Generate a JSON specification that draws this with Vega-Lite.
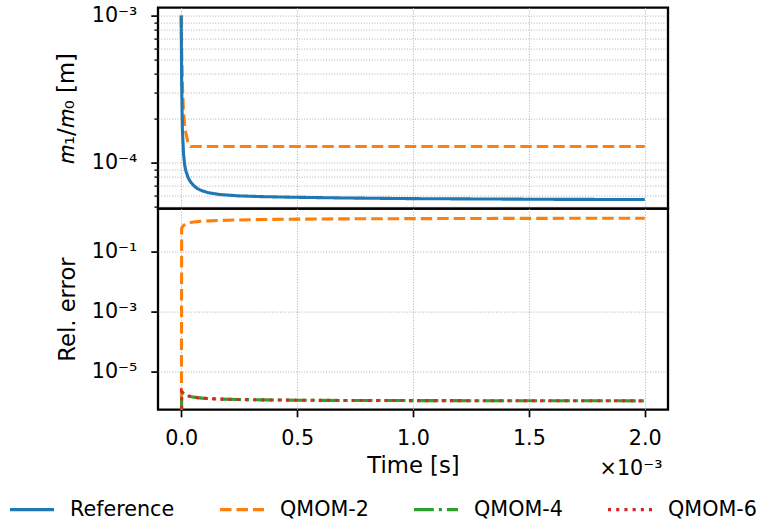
{
  "$schema": "https://vega.github.io/schema/vega-lite/v6.json",
  "padding": {"left": 8, "top": 2.6, "right": 4, "bottom": 4},
  "background": "white",
  "spacing": 0,
  "bounds": "flush",
  "config": {
    "font": "DejaVu Sans",
    "view": {"stroke": "black", "strokeWidth": 2.3},
    "axis": {
      "domain": false,
      "labelFont": "DejaVu Sans", "labelFontSize": 20.7, "labelColor": "black",
      "titleFont": "DejaVu Sans", "titleFontSize": 22.7, "titleColor": "black", "titleFontWeight": "normal",
      "tickColor": "black", "tickWidth": 1.7, "tickSize": 7.2,
      "gridColor": "#b0b0b0", "gridDash": [1, 1.7], "gridWidth": 1
    },
    "legend": {
      "orient": "none", "legendX": -150, "legendY": 478, "direction": "horizontal",
      "gridAlign": "none",
      "symbolType": "stroke", "symbolSize": 1936, "symbolStrokeWidth": 3.1,
      "labelFont": "DejaVu Sans", "labelFontSize": 20.7, "labelColor": "black",
      "labelOffset": 14, "columnPadding": 38, "padding": 0
    },
    "line": {"strokeWidth": 3.1}
  },
  "datasets": {
    "m": [
      {"t": 0, "Reference": 1e-3, "QMOM-2": 1e-3},
      {"t": 2e-6, "Reference": 3.5e-4, "QMOM-2": 6e-4},
      {"t": 5e-6, "Reference": 1.7e-4, "QMOM-2": 3.5e-4},
      {"t": 1e-5, "Reference": 1.15e-4, "QMOM-2": 2.2e-4},
      {"t": 1.5e-5, "Reference": 9.6e-5, "QMOM-2": 1.8e-4},
      {"t": 2e-5, "Reference": 8.8e-5, "QMOM-2": 1.6e-4},
      {"t": 3e-5, "Reference": 7.9e-5, "QMOM-2": 1.35e-4},
      {"t": 4e-5, "Reference": 7.4e-5, "QMOM-2": 1.285e-4},
      {"t": 5.5e-5, "Reference": 6.95e-5, "QMOM-2": 1.285e-4},
      {"t": 7e-5, "Reference": 6.65e-5, "QMOM-2": 1.285e-4},
      {"t": 9e-5, "Reference": 6.42e-5, "QMOM-2": 1.285e-4},
      {"t": 1.2e-4, "Reference": 6.22e-5, "QMOM-2": 1.285e-4},
      {"t": 1.7e-4, "Reference": 6.05e-5, "QMOM-2": 1.285e-4},
      {"t": 2.5e-4, "Reference": 5.93e-5, "QMOM-2": 1.285e-4},
      {"t": 3.5e-4, "Reference": 5.86e-5, "QMOM-2": 1.285e-4},
      {"t": 5e-4, "Reference": 5.8e-5, "QMOM-2": 1.285e-4},
      {"t": 7e-4, "Reference": 5.74e-5, "QMOM-2": 1.285e-4},
      {"t": 1e-3, "Reference": 5.68e-5, "QMOM-2": 1.285e-4},
      {"t": 1.3e-3, "Reference": 5.65e-5, "QMOM-2": 1.285e-4},
      {"t": 1.6e-3, "Reference": 5.62e-5, "QMOM-2": 1.285e-4},
      {"t": 2e-3, "Reference": 5.6e-5, "QMOM-2": 1.285e-4}
    ],
    "err": [
      {"t": 0, "QMOM-2": 1e-12, "QMOM-4": 1e-12, "QMOM-6": 1e-12},
      {"t": 2e-6, "QMOM-2": 0.6, "QMOM-4": 2.1e-6, "QMOM-6": 2.12e-6},
      {"t": 5e-6, "QMOM-2": 0.66, "QMOM-4": 2.0e-6, "QMOM-6": 2.0e-6},
      {"t": 1e-5, "QMOM-2": 0.74, "QMOM-4": 1.85e-6, "QMOM-6": 1.85e-6},
      {"t": 1.5e-5, "QMOM-2": 0.8, "QMOM-4": 1.75e-6, "QMOM-6": 1.75e-6},
      {"t": 2e-5, "QMOM-2": 0.85, "QMOM-4": 1.65e-6, "QMOM-6": 1.65e-6},
      {"t": 3e-5, "QMOM-2": 0.9, "QMOM-4": 1.52e-6, "QMOM-6": 1.52e-6},
      {"t": 4e-5, "QMOM-2": 0.94, "QMOM-4": 1.45e-6, "QMOM-6": 1.45e-6},
      {"t": 5.5e-5, "QMOM-2": 0.98, "QMOM-4": 1.38e-6, "QMOM-6": 1.38e-6},
      {"t": 7e-5, "QMOM-2": 1.01, "QMOM-4": 1.33e-6, "QMOM-6": 1.33e-6},
      {"t": 9e-5, "QMOM-2": 1.04, "QMOM-4": 1.28e-6, "QMOM-6": 1.28e-6},
      {"t": 1.2e-4, "QMOM-2": 1.07, "QMOM-4": 1.24e-6, "QMOM-6": 1.24e-6},
      {"t": 1.7e-4, "QMOM-2": 1.11, "QMOM-4": 1.19e-6, "QMOM-6": 1.19e-6},
      {"t": 2.5e-4, "QMOM-2": 1.15, "QMOM-4": 1.15e-6, "QMOM-6": 1.15e-6},
      {"t": 3.5e-4, "QMOM-2": 1.19, "QMOM-4": 1.12e-6, "QMOM-6": 1.12e-6},
      {"t": 5e-4, "QMOM-2": 1.22, "QMOM-4": 1.09e-6, "QMOM-6": 1.09e-6},
      {"t": 7e-4, "QMOM-2": 1.25, "QMOM-4": 1.07e-6, "QMOM-6": 1.07e-6},
      {"t": 1e-3, "QMOM-2": 1.27, "QMOM-4": 1.06e-6, "QMOM-6": 1.06e-6},
      {"t": 1.3e-3, "QMOM-2": 1.29, "QMOM-4": 1.05e-6, "QMOM-6": 1.05e-6},
      {"t": 1.6e-3, "QMOM-2": 1.3, "QMOM-4": 1.045e-6, "QMOM-6": 1.045e-6},
      {"t": 2e-3, "QMOM-2": 1.31, "QMOM-4": 1.04e-6, "QMOM-6": 1.04e-6}
    ]
  },
  "resolve": {"scale": {"color": "shared", "strokeDash": "shared"}},
  "vconcat": [
    {
      "width": 510, "height": 201,
      "data": {"name": "m"},
      "transform": [{"fold": ["QMOM-2", "Reference"], "as": ["series", "value"]}],
      "mark": {"type": "line", "clip": true},
      "encoding": {
        "x": {
          "field": "t", "type": "quantitative",
          "scale": {"domain": [-0.0001, 0.0021], "nice": false, "zero": false},
          "axis": {
            "values": [0, 0.0005, 0.001, 0.0015, 0.002],
            "labels": false, "ticks": false, "grid": true,
            "title": "×10⁻³", "titleFontSize": 20.7, "titleAnchor": "end", "titleAlign": "right",
            "titleBaseline": "alphabetic", "titleX": 504, "titleY": 266
          }
        },
        "y": {
          "field": "value", "type": "quantitative",
          "scale": {"type": "log", "domain": [4.86e-5, 1.132e-3], "nice": false},
          "axis": {
            "values": [5e-5, 6e-5, 7e-5, 8e-5, 9e-5, 1e-4, 2e-4, 3e-4, 4e-4, 5e-4, 6e-4, 7e-4, 8e-4, 9e-4, 1e-3],
            "labelExpr": "abs(datum.value - 0.001) < 1e-9 ? '10⁻³' : abs(datum.value - 0.0001) < 1e-10 ? '10⁻⁴' : ''",
            "tickSize": {"condition": {"test": "abs(datum.value - 0.001) < 1e-9 || abs(datum.value - 0.0001) < 1e-10", "value": 7.2}, "value": 4.1},
            "tickWidth": {"condition": {"test": "abs(datum.value - 0.001) < 1e-9 || abs(datum.value - 0.0001) < 1e-10", "value": 1.7}, "value": 1.3},
            "labelPadding": 14,
            "title": "𝑚₁/𝑚₀ [m]", "titlePadding": 13
          }
        },
        "color": {
          "field": "series", "type": "nominal",
          "scale": {"domain": ["Reference", "QMOM-2", "QMOM-4", "QMOM-6"], "range": ["#1f77b4", "#ff7f0e", "#2ca02c", "#d62728"]},
          "legend": {"title": null}
        },
        "strokeDash": {
          "field": "series", "type": "nominal",
          "scale": {"domain": ["Reference", "QMOM-2", "QMOM-4", "QMOM-6"], "range": [[1, 0], [11.5, 5], [19.8, 5, 3.1, 5], [3.1, 5.1]]},
          "legend": {"title": null}
        }
      }
    },
    {
      "width": 510, "height": 201,
      "data": {"name": "err"},
      "transform": [{"fold": ["QMOM-2", "QMOM-4", "QMOM-6"], "as": ["series", "value"]}],
      "mark": {"type": "line", "clip": true},
      "encoding": {
        "x": {
          "field": "t", "type": "quantitative",
          "scale": {"domain": [-0.0001, 0.0021], "nice": false, "zero": false},
          "axis": {
            "values": [0, 0.0005, 0.001, 0.0015, 0.002],
            "labelExpr": "format(datum.value * 1000, '.1f')",
            "labelPadding": 12, "grid": true,
            "title": "Time [s]", "titlePadding": 6
          }
        },
        "y": {
          "field": "value", "type": "quantitative",
          "scale": {"type": "log", "domain": [5.3e-7, 2.75], "nice": false},
          "axis": {
            "values": [1e-5, 1e-3, 1e-1],
            "labelExpr": "datum.value > 0.01 ? '10⁻¹' : datum.value > 1e-4 ? '10⁻³' : '10⁻⁵'",
            "labelPadding": 14,
            "title": "Rel. error", "titlePadding": 12
          }
        },
        "color": {
          "field": "series", "type": "nominal",
          "scale": {"domain": ["Reference", "QMOM-2", "QMOM-4", "QMOM-6"], "range": ["#1f77b4", "#ff7f0e", "#2ca02c", "#d62728"]},
          "legend": {"title": null}
        },
        "strokeDash": {
          "field": "series", "type": "nominal",
          "scale": {"domain": ["Reference", "QMOM-2", "QMOM-4", "QMOM-6"], "range": [[1, 0], [11.5, 5], [19.8, 5, 3.1, 5], [3.1, 5.1]]},
          "legend": {"title": null}
        }
      }
    }
  ]
}
